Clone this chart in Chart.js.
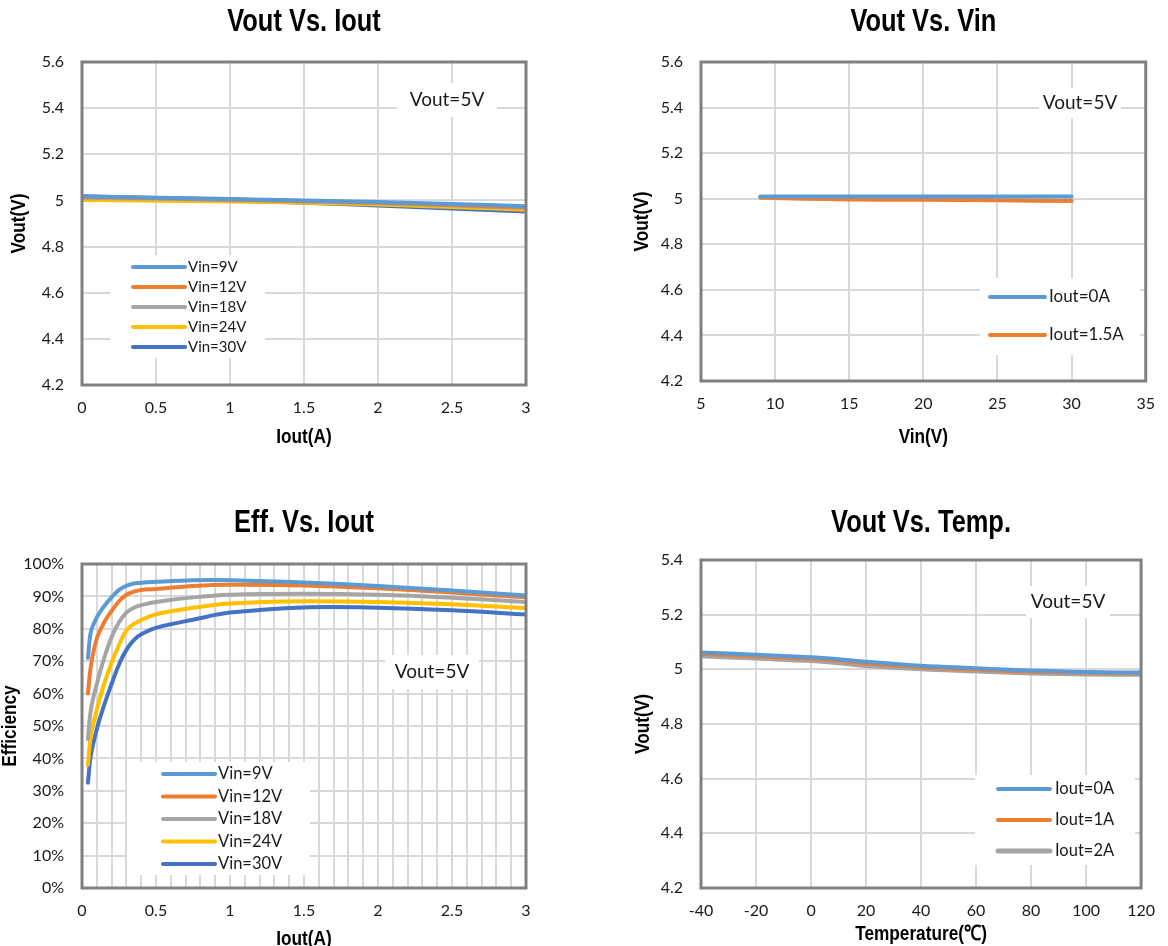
<!DOCTYPE html>
<html>
<head>
<meta charset="utf-8">
<script src="https://cdn.jsdelivr.net/npm/chart.js@4.4.1/dist/chart.umd.min.js"></script>
<style>
    html, body { margin: 0; padding: 0; background: #fff; }
    body { width: 1168px; height: 946px; position: relative; overflow: hidden; }
    .panel { position: absolute; }
</style>
</head>
<body>
<div class="panel" style="left:0;top:0;width:584px;height:460px"><canvas id="voutIoutChart"></canvas></div>
<div class="panel" style="left:584px;top:0;width:584px;height:460px"><canvas id="voutVinChart"></canvas></div>
<div class="panel" style="left:0;top:490px;width:584px;height:462px"><canvas id="effChart"></canvas></div>
<div class="panel" style="left:584px;top:490px;width:584px;height:462px"><canvas id="tempChart"></canvas></div>
<script>
// Vout vs Iout
const ioutPoints = [0, 0.5, 1, 1.5, 2, 2.5, 3];
const voutVin9 = [5.018, 5.012, 5.006, 5.000, 4.993, 4.985, 4.975];
const voutVin12 = [5.015, 5.010, 5.004, 4.998, 4.990, 4.980, 4.970];
const voutVin18 = [5.012, 5.007, 5.001, 4.995, 4.988, 4.978, 4.967];
const voutVin24 = [5.002, 4.999, 4.995, 4.990, 4.982, 4.972, 4.960];
const voutVin30 = [5.018, 5.010, 5.000, 4.990, 4.978, 4.965, 4.952];

// Vout vs Vin
const vinPoints = [9, 12, 15, 20, 25, 30];
const voutIout0A = [5.010, 5.010, 5.010, 5.010, 5.010, 5.010];
const voutIout1p5A = [5.004, 5.000, 4.997, 4.995, 4.993, 4.990];

// Efficiency vs Iout (%)
const effIout = [0.04, 0.06, 0.1, 0.15, 0.2, 0.25, 0.3, 0.35, 0.4, 0.5, 0.75, 1, 1.5, 2, 2.5, 3];
const effVin9 = [71, 79, 83.5, 87, 89.7, 92, 93.3, 94, 94.2, 94.5, 95, 95, 94.3, 93.2, 91.8, 90.3];
const effVin12 = [60, 68.5, 77, 82, 85.5, 88.5, 90.5, 91.5, 92, 92.3, 93.2, 93.6, 93.4, 92.5, 91.2, 89.7];
const effVin18 = [46, 55, 63, 71, 77.5, 82, 85, 86.5, 87.3, 88.3, 89.7, 90.5, 90.8, 90.5, 89.6, 88.3];
const effVin24 = [38, 47, 55, 63, 69.5, 75, 79.5, 81.5, 82.7, 84.5, 86.5, 87.8, 88.5, 88.3, 87.6, 86.4];
const effVin30 = [32.5, 41, 49, 56.5, 63, 69, 73.5, 76.5, 78.3, 80.3, 82.8, 85, 86.6, 86.5, 85.7, 84.4];

// Vout vs Temperature
const tempPoints = [-40, -20, 0, 10, 20, 40, 60, 80, 100, 120];
const tempIout0A = [5.062, 5.053, 5.044, 5.037, 5.028, 5.013, 5.004, 4.996, 4.990, 4.988];
const tempIout1A = [5.057, 5.048, 5.039, 5.032, 5.022, 5.008, 4.999, 4.992, 4.988, 4.986];
const tempIout2A = [5.050, 5.041, 5.032, 5.024, 5.014, 5.002, 4.994, 4.987, 4.983, 4.982];

const COLORS = {
    lightBlue: '#5b9bd5',
    orange: '#ed7d31',
    gray: '#a5a5a5',
    yellow: '#ffc000',
    blue: '#4472c4'
};

const TICK_FONT = { family: 'Lato, "Open Sans", sans-serif', size: 16 };

function pairs(xs, ys) {
    return xs.map((x, i) => ({ x: x, y: ys[i] }));
}

function series(label, xs, ys, color, width) {
    return {
        label: label,
        data: pairs(xs, ys),
        borderColor: color,
        backgroundColor: color,
        borderWidth: width || 4,
        pointRadius: 0,
        tension: 0.35,
        borderCapStyle: 'round',
        fill: false
    };
}

// Arial Narrow look-alike: bold Liberation Sans squeezed horizontally
function narrowText(ctx, text, x, y, size, rotated, baseline) {
    ctx.save();
    ctx.translate(x, y);
    if (rotated) ctx.rotate(-Math.PI / 2);
    ctx.scale(0.82, 1);
    ctx.fillStyle = '#000';
    ctx.font = 'bold ' + size + 'px "Liberation Sans", Arial, sans-serif';
    ctx.textAlign = 'center';
    ctx.textBaseline = baseline || 'middle';
    ctx.fillText(text, 0, 0);
    ctx.restore();
}

// frame, titles, note box and in-plot legend
const panelDecor = {
    id: 'panelDecor',
    afterDatasetsDraw(chart) {
        const a = chart.chartArea;
        const ctx = chart.ctx;
        ctx.save();
        ctx.strokeStyle = '#808080';
        ctx.lineWidth = 3;
        ctx.strokeRect(a.left, a.top, a.right - a.left, a.bottom - a.top);
        ctx.restore();
    },
    afterDraw(chart, args, opts) {
        const a = chart.chartArea;
        const ctx = chart.ctx;
        const midX = (a.left + a.right) / 2;
        const midY = (a.top + a.bottom) / 2;

        narrowText(ctx, opts.title, midX, opts.titleBase, 31, false, 'alphabetic');
        narrowText(ctx, opts.xTitle, midX, opts.xTitleY, 21, false);
        narrowText(ctx, opts.yTitle, opts.yTitleX, midY, 21, true);

        ctx.save();
        if (opts.note) {
            const n = opts.note;
            ctx.fillStyle = '#fff';
            ctx.fillRect(a.left + n.cx - n.w / 2, a.top + n.cy - n.h / 2, n.w, n.h);
            ctx.fillStyle = '#1a1a1a';
            ctx.font = '19px Lato, "Open Sans", sans-serif';
            ctx.textAlign = 'center';
            ctx.textBaseline = 'middle';
            ctx.fillText(n.text, a.left + n.cx, a.top + n.cy);
        }
        if (opts.legend) {
            const l = opts.legend;
            ctx.fillStyle = '#fff';
            ctx.fillRect(a.left + l.x, a.top + l.y, l.w, l.h);
            chart.data.datasets.forEach((ds, i) => {
                const y = a.top + l.row0 + i * l.rowGap;
                ctx.strokeStyle = ds.borderColor;
                ctx.lineWidth = ds.borderWidth;
                ctx.lineCap = 'round';
                ctx.beginPath();
                ctx.moveTo(a.left + l.line0, y);
                ctx.lineTo(a.left + l.line1, y);
                ctx.stroke();
                ctx.fillStyle = '#1a1a1a';
                ctx.font = l.size + 'px Lato, "Open Sans", sans-serif';
                ctx.textAlign = 'left';
                ctx.textBaseline = 'middle';
                ctx.fillText(ds.label, a.left + l.text, y);
            });
        }
        ctx.restore();
    }
};

function trimNum(v) {
    return String(+Number(v).toFixed(2));
}

function makeChart(id, cfg) {
    const ctx = document.getElementById(id).getContext('2d');
    return new Chart(ctx, {
        type: 'line',
        data: { datasets: cfg.datasets },
        plugins: [panelDecor],
        options: {
            responsive: true,
            maintainAspectRatio: false,
            animation: false,
            layout: { padding: { left: 0, right: cfg.padRight, top: cfg.padTop, bottom: 0 } },
            plugins: {
                legend: { display: false },
                tooltip: { enabled: false },
                title: { display: false },
                panelDecor: {
                    title: cfg.title,
                    titleBase: cfg.titleBase,
                    xTitle: cfg.x.title,
                    xTitleY: cfg.x.titleY,
                    yTitle: cfg.y.title,
                    yTitleX: cfg.y.titleX,
                    note: cfg.note,
                    legend: cfg.legend
                }
            },
            scales: {
                x: {
                    type: 'linear',
                    min: cfg.x.min,
                    max: cfg.x.max,
                    afterFit(scale) { scale.height = cfg.x.height; },
                    border: { display: false },
                    grid: { color: '#d9d9d9', lineWidth: 2, drawTicks: false },
                    ticks: {
                        stepSize: cfg.x.step,
                        autoSkip: false,
                        maxRotation: 0,
                        padding: 13,
                        color: '#1a1a1a',
                        font: TICK_FONT,
                        callback: cfg.x.label || trimNum
                    }
                },
                y: {
                    min: cfg.y.min,
                    max: cfg.y.max,
                    afterFit(scale) { scale.width = cfg.y.width; },
                    border: { display: false },
                    grid: { color: '#d9d9d9', lineWidth: 2, drawTicks: false },
                    ticks: {
                        stepSize: cfg.y.step,
                        padding: 18,
                        color: '#1a1a1a',
                        font: TICK_FONT,
                        callback: cfg.y.label || trimNum
                    }
                }
            }
        }
    });
}

function init() {
    makeChart('voutIoutChart', {
        title: 'Vout Vs. Iout',
        titleBase: 31,
        padTop: 62,
        padRight: 58,
        datasets: [
            series('Vin=9V', ioutPoints, voutVin9, COLORS.lightBlue),
            series('Vin=12V', ioutPoints, voutVin12, COLORS.orange),
            series('Vin=18V', ioutPoints, voutVin18, COLORS.gray),
            series('Vin=24V', ioutPoints, voutVin24, COLORS.yellow),
            series('Vin=30V', ioutPoints, voutVin30, COLORS.blue)
        ],
        x: { min: 0, max: 3, step: 0.5, height: 75, title: 'Iout(A)', titleY: 437 },
        y: { min: 4.2, max: 5.6, step: 0.2, width: 82, title: 'Vout(V)', titleX: 19 },
        note: { text: 'Vout=5V', cx: 365, cy: 38, w: 100, h: 34 },
        legend: { x: 28, y: 193, w: 155, h: 103, line0: 51, line1: 103, text: 106, row0: 205, rowGap: 20, size: 15 }
    });

    makeChart('voutVinChart', {
        title: 'Vout Vs. Vin',
        titleBase: 31,
        padTop: 62,
        padRight: 18,
        datasets: [
            series('Iout=0A', vinPoints, voutIout0A, COLORS.lightBlue),
            series('Iout=1.5A', vinPoints, voutIout1p5A, COLORS.orange)
        ],
        x: { min: 5, max: 35, step: 5, height: 79, title: 'Vin(V)', titleY: 437 },
        y: { min: 4.2, max: 5.6, step: 0.2, width: 117, title: 'Vout(V)', titleX: 58 },
        note: { text: 'Vout=5V', cx: 379, cy: 41, w: 82, h: 30 },
        legend: { x: 279, y: 216, w: 160, h: 77, line0: 289, line1: 344, text: 348, row0: 235, rowGap: 38, size: 17 }
    });

    makeChart('effChart', {
        title: 'Eff. Vs. Iout',
        titleBase: 42,
        padTop: 74,
        padRight: 58,
        datasets: [
            series('Vin=9V', effIout, effVin9, COLORS.lightBlue),
            series('Vin=12V', effIout, effVin12, COLORS.orange),
            series('Vin=18V', effIout, effVin18, COLORS.gray),
            series('Vin=24V', effIout, effVin24, COLORS.yellow),
            series('Vin=30V', effIout, effVin30, COLORS.blue)
        ],
        x: {
            min: 0, max: 3, step: 0.1, height: 64, title: 'Iout(A)', titleY: 449,
            label: v => (Math.abs(v * 2 - Math.round(v * 2)) < 1e-6 ? trimNum(v) : '')
        },
        y: { min: 0, max: 100, step: 10, width: 82, title: 'Efficiency', titleX: 10, label: v => v + '%' },
        note: { text: 'Vout=5V', cx: 350, cy: 108, w: 94, h: 34 },
        legend: { x: 45, y: 198, w: 183, h: 113, line0: 81, line1: 133, text: 136, row0: 210, rowGap: 22.5, size: 16.5 }
    });

    makeChart('tempChart', {
        title: 'Vout Vs. Temp.',
        titleBase: 42,
        padTop: 70,
        padRight: 17,
        datasets: [
            series('Iout=0A', tempPoints, tempIout0A, COLORS.lightBlue),
            series('Iout=1A', tempPoints, tempIout1A, COLORS.orange),
            series('Iout=2A', tempPoints, tempIout2A, COLORS.gray, 5)
        ],
        x: { min: -40, max: 120, step: 20, height: 64, title: 'Temperature(\u2103)', titleY: 444 },
        y: { min: 4.2, max: 5.4, step: 0.2, width: 117, title: 'Vout(V)', titleX: 59 },
        note: { text: 'Vout=5V', cx: 367, cy: 42, w: 84, h: 32 },
        legend: { x: 274, y: 215, w: 160, h: 90, line0: 297, line1: 349, text: 354, row0: 229, rowGap: 31, size: 16.5 }
    });
}

if (document.readyState === 'loading') {
    document.addEventListener('DOMContentLoaded', init);
} else {
    init();
}
</script>
</body>
</html>
